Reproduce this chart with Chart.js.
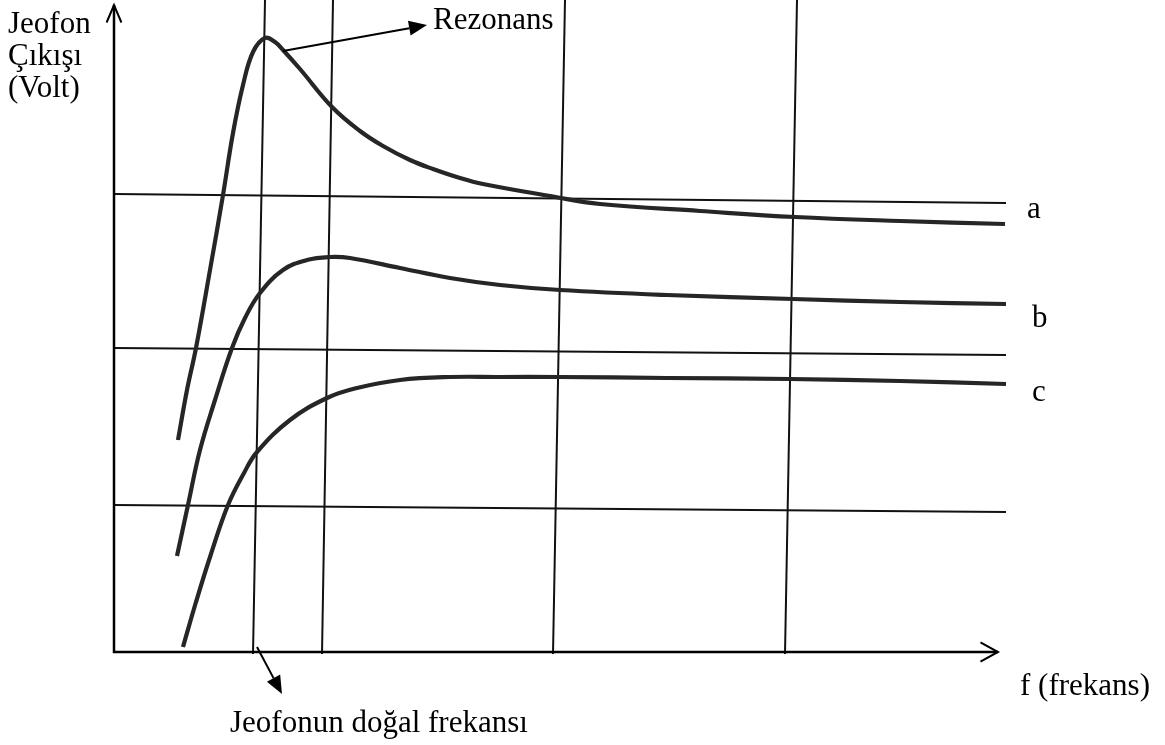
<!DOCTYPE html>
<html><head><meta charset="utf-8">
<script src="https://cdn.jsdelivr.net/npm/chart.js@4.4.0/dist/chart.umd.min.js"></script>
<style>html,body{margin:0;padding:0;background:#fff;}canvas{display:block;}</style>
</head><body>
<canvas id="c" width="1165" height="745"></canvas>
<script>
// Curve a (sharp resonance)
const curveA_x = [6.4,7.3,8.2,9.6,10.9,11.9,12.9,13.9,15.1,16.1,16.9,18.6,21.8,24.6,26.9,29.6,31.9,34.6,36.9,43.6,48.6,58.6,68.1,78.6,89.1];
const curveA_y = [21.2,26.2,30.4,38.2,45.7,51.9,56.7,60.0,61.4,61.0,60.2,58.3,54.5,52.1,50.6,49.2,48.3,47.4,46.8,45.6,44.8,44.1,43.5,43.1,42.8];
// Curve b (moderate damping)
const curveB_x = [6.3,7.4,8.6,10.1,11.8,13.1,14.6,16.9,19.3,21.6,23.6,28.6,33.6,38.6,44.6,55.3,67.9,78.6,89.2];
const curveB_y = [9.6,14.7,20.2,25.2,30.4,33.4,35.9,38.2,39.2,39.5,39.4,38.4,37.4,36.7,36.2,35.7,35.3,35.0,34.8];
// Curve c (critical damping)
const curveC_x = [6.9,8.2,9.7,11.4,13.0,14.3,17.6,21.3,24.3,28.6,33.6,38.6,44.4,55.3,67.6,78.6,89.2];
const curveC_y = [0.5,5.0,9.8,14.7,17.9,20.0,23.2,25.4,26.4,27.2,27.5,27.5,27.5,27.4,27.3,27.1,26.8];
// Hand-drawn grid lines: [x0, y0, x1, y1]
const gridVertical = [[13.9,-0.2,15.1,65.2],[20.8,-0.2,21.9,65.2],[43.9,-0.2,45.1,65.2],[67.1,-0.2,68.3,65.2]];
const gridHorizontal = [[0,45.8,89.2,44.9],[0,30.4,89.2,29.7],[0,14.7,89.2,14.0]];
const curveLabels = ['a','b','c'];
const curveLabelPos = [[91.3,43.4],[91.8,32.5],[91.8,25.1]];
const axisX = [0,88.4];
const axisY = [0,64.7];

const FONT = "31px 'Liberation Serif', 'Times New Roman', serif";

function pts(xs, ys){ return xs.map((x,i)=>({x:x,y:ys[i]})); }
const datasets = [];
gridVertical.concat(gridHorizontal).forEach(g=>{
  datasets.push({data:[{x:g[0],y:g[1]},{x:g[2],y:g[3]}],showLine:true,borderColor:'#111',borderWidth:2,pointRadius:0,clip:false,order:2});
});
[[curveA_x,curveA_y],[curveB_x,curveB_y],[curveC_x,curveC_y]].forEach(c=>{
  datasets.push({data:pts(c[0],c[1]),showLine:true,borderColor:'#262626',borderWidth:4.2,pointRadius:0,tension:0.4,clip:false,order:1});
});

function openHead(ctx, tx, ty, ang, len, spread){
  ctx.beginPath();
  ctx.moveTo(tx - len*Math.cos(ang-spread), ty - len*Math.sin(ang-spread));
  ctx.lineTo(tx, ty);
  ctx.lineTo(tx - len*Math.cos(ang+spread), ty - len*Math.sin(ang+spread));
  ctx.stroke();
}
function filledArrow(ctx, x0, y0, x1, y1){
  const ang = Math.atan2(y1-y0, x1-x0), len = 18, hw = 7.5;
  const bx = x1 - len*Math.cos(ang), by = y1 - len*Math.sin(ang);
  ctx.beginPath(); ctx.moveTo(x0,y0); ctx.lineTo(bx,by); ctx.lineWidth=2; ctx.stroke();
  ctx.beginPath();
  ctx.moveTo(x1,y1);
  ctx.lineTo(bx + hw*Math.sin(ang), by - hw*Math.cos(ang));
  ctx.lineTo(bx - hw*Math.sin(ang), by + hw*Math.cos(ang));
  ctx.closePath(); ctx.fill();
}

const deco = {
  id:'deco',
  afterDatasetsDraw(chart){
    const ctx = chart.ctx, sx = chart.scales.x, sy = chart.scales.y;
    const X = v=>sx.getPixelForValue(v), Y = v=>sy.getPixelForValue(v);
    ctx.save();
    ctx.strokeStyle='#000'; ctx.fillStyle='#000'; ctx.lineCap='butt';
    // axes
    ctx.lineWidth=2.5;
    ctx.beginPath();
    ctx.moveTo(X(0),Y(axisY[1])); ctx.lineTo(X(0),Y(0)); ctx.lineTo(X(axisX[1]),Y(0));
    ctx.stroke();
    ctx.lineWidth=2;
    openHead(ctx, X(0), Y(axisY[1]), -Math.PI/2, 19, 0.4);
    openHead(ctx, X(axisX[1]), Y(0), 0, 20, 0.5);
    // annotation arrows
    filledArrow(ctx, X(16.9), Y(60.1), X(31.3), Y(62.7));
    filledArrow(ctx, X(14.3), Y(0.5), X(16.8), Y(-4.2));
    // texts
    ctx.font = FONT; ctx.textBaseline='alphabetic'; ctx.textAlign='left';
    ctx.fillText('Rezonans', X(31.9), Y(62.3));
    ctx.fillText('Jeofonun doğal frekansı', X(11.6), Y(-8.0));
    ctx.fillText('f (frekans)', X(90.6), Y(-4.3));
    ctx.fillText('Jeofon', 8, Y(61.9));
    ctx.fillText('Çıkışı', 8, Y(58.7));
    ctx.fillText('(Volt)', 8, Y(55.5));
    curveLabels.forEach((t,i)=>ctx.fillText(t, X(curveLabelPos[i][0]), Y(curveLabelPos[i][1])));
    ctx.restore();
  }
};

new Chart(document.getElementById('c'), {
  type:'scatter',
  data:{datasets:datasets},
  options:{
    responsive:false, animation:false, events:[],
    layout:{padding:{left:114,right:159,top:7,bottom:93}},
    scales:{
      x:{type:'linear',min:0,max:89.2,display:false},
      y:{type:'linear',min:0,max:64.5,display:false}
    },
    plugins:{legend:{display:false},tooltip:{enabled:false}}
  },
  plugins:[deco]
});
</script>
</body></html>
